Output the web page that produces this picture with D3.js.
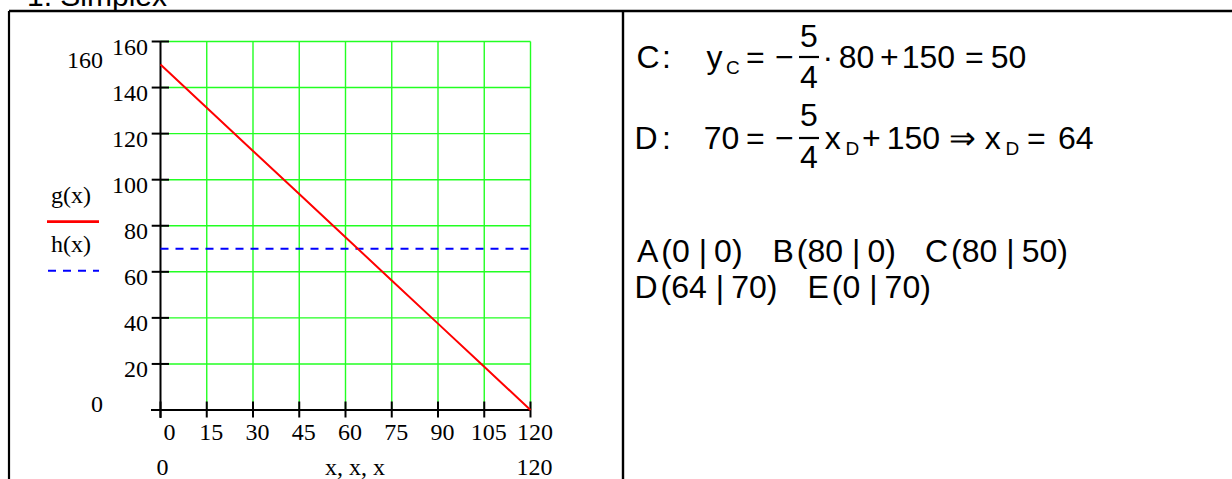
<!DOCTYPE html>
<html><head><meta charset="utf-8">
<script src="https://cdn.jsdelivr.net/npm/d3@7"></script>
<style>body{margin:0;background:#fff}svg{display:block}</style>
</head><body>
<svg id="c" width="1232" height="479"></svg>
<script>
// ---- data ----
const xTicks = [0, 15, 30, 45, 60, 75, 90, 105, 120];
const yTicks = [0, 20, 40, 60, 80, 100, 120, 140, 160];
const xValues = [0, 15, 30, 45, 60, 75, 90, 105, 120];
const gValues = [150, 131.25, 112.5, 93.75, 75, 56.25, 37.5, 18.75, 0];
const hValues = [70, 70, 70, 70, 70, 70, 70, 70, 70];
const xLimits = ["0", "120"];
const yLimits = ["160", "0"];
const xAxisTitle = "x, x, x";
const legendLabels = ["g(x)", "h(x)"];
const title = "1. Simplex";

const serif = "'Liberation Serif','Times New Roman',serif";
const sans = "'Liberation Sans',Arial,sans-serif";
const svg = d3.select("#c");
const SF = 24;   // serif label size
const MF = 32;   // math font size

// ---- frames ----
svg.append("text").attr("x", 27).attr("y", 6).attr("font-family", sans).attr("font-size", 30).text(title);
svg.append("line").attr("x1", 9).attr("x2", 1232).attr("y1", 11).attr("y2", 11).attr("stroke", "#000").attr("stroke-width", 2.6);
svg.append("line").attr("x1", 9).attr("x2", 9).attr("y1", 11).attr("y2", 479).attr("stroke", "#000").attr("stroke-width", 2.2);
svg.append("line").attr("x1", 623).attr("x2", 623).attr("y1", 11).attr("y2", 479).attr("stroke", "#000").attr("stroke-width", 2.4);

// ---- scales ----
const x = d3.scaleLinear().domain([0, 120]).range([160.5, 530.5]);
const y = d3.scaleLinear().domain([0, 160]).range([410, 41.5]);

// ---- grid ----
svg.append("g").attr("transform", `translate(0,${y(0)})`)
  .call(d3.axisBottom(x).tickValues(xTicks.slice(1)).tickSize(-(y(0) - y(160))).tickFormat("").offset(0))
  .call(s => s.select(".domain").remove())
  .selectAll("line").attr("stroke", "#22ff22").attr("stroke-width", 1.4);
svg.append("g").attr("transform", `translate(${x(0)},0)`)
  .call(d3.axisLeft(y).tickValues(yTicks.slice(1)).tickSize(-(x(120) - x(0))).tickFormat("").offset(0))
  .call(s => s.select(".domain").remove())
  .selectAll("line").attr("stroke", "#22ff22").attr("stroke-width", 1.4);

// ---- axis lines ----
svg.append("line").attr("x1", x(0) - 9.5).attr("x2", x(120)).attr("y1", y(0)).attr("y2", y(0)).attr("stroke", "#000").attr("stroke-width", 2);
svg.append("line").attr("x1", x(0)).attr("x2", x(0)).attr("y1", y(160)).attr("y2", y(0) + 8).attr("stroke", "#000").attr("stroke-width", 2);

// ---- x axis ticks & labels ----
const gx = svg.append("g").attr("transform", `translate(0,${y(0)})`)
  .call(d3.axisBottom(x).tickValues(xTicks).tickSize(8).offset(0).tickFormat(d3.format("d")));
gx.select(".domain").remove();
gx.attr("font-family", serif).attr("font-size", SF);
gx.selectAll(".tick line").attr("y1", -8.5).attr("y2", 7.5).attr("stroke", "#000").attr("stroke-width", 2);
gx.selectAll(".tick text").attr("y", 30).attr("dy", 0).attr("x", d => d === 0 ? 9 : 4.5).attr("fill", "#000");

// ---- y axis ticks & labels ----
const gy = svg.append("g").attr("transform", `translate(${x(0)},0)`)
  .call(d3.axisLeft(y).tickValues(yTicks.slice(1)).tickSize(8).offset(0).tickFormat(d3.format("d")));
gy.select(".domain").remove();
gy.attr("font-family", serif).attr("font-size", SF);
gy.selectAll(".tick line").attr("x1", 8.5).attr("x2", -8.8).attr("stroke", "#000").attr("stroke-width", 2);
gy.selectAll(".tick text").attr("x", -12.5).attr("dy", 0).attr("y", 13).attr("fill", "#000");

// ---- limit labels ----
const lim = (xx, yy, s, anchor) => svg.append("text").attr("x", xx).attr("y", yy).attr("font-family", serif)
  .attr("font-size", SF).attr("text-anchor", anchor).text(s);
lim(103, 68, yLimits[0], "end");
lim(103, 412, yLimits[1], "end");
lim(x(0) - 4, 475, xLimits[0], "start");
lim(x(120) + 22, 475, xLimits[1], "end");
lim(355, 475, xAxisTitle, "middle");

// ---- series ----
const pts = (vals) => xValues.map((v, i) => [v, vals[i]]);
const line = d3.line().x(d => x(d[0])).y(d => y(d[1]));
svg.append("path").attr("d", line(pts(hValues))).attr("fill", "none").attr("stroke", "#0000ff")
  .attr("stroke-width", 2).attr("stroke-dasharray", "8,7");
svg.append("path").attr("d", line(pts(gValues))).attr("fill", "none").attr("stroke", "#ff0000").attr("stroke-width", 2);

// ---- legend ----
lim(71, 203, legendLabels[0], "middle");
svg.append("line").attr("x1", 47).attr("x2", 99).attr("y1", 221.7).attr("y2", 221.7).attr("stroke", "#ff0000").attr("stroke-width", 2.7);
lim(71, 252, legendLabels[1], "middle");
svg.append("line").attr("x1", 48).attr("x2", 99).attr("y1", 270.7).attr("y2", 270.7).attr("stroke", "#0000ff")
  .attr("stroke-width", 2).attr("stroke-dasharray", "8,7");

// ---- right panel math ----
function t(xx, yy, s, size = MF, anchor = "start") {
  return svg.append("text").attr("x", xx).attr("y", yy).attr("font-family", sans)
    .attr("font-size", size).attr("text-anchor", anchor).text(s);
}
function frac(cx, base, n, d, numOff, denOff) {
  svg.append("line").attr("x1", cx - 10).attr("x2", cx + 10).attr("y1", base - 11).attr("y2", base - 11)
    .attr("stroke", "#000").attr("stroke-width", 2.2);
  t(cx, base + numOff, n, MF, "middle");
  t(cx, base + denOff, d, MF, "middle");
}
// line 1
let b = 68;
t(636.5, b, "C");
t(662, b, ":");
t(706.5, b, "y");
t(726, b + 6, "C", 19);
t(746, b, "=");
t(775, b, "−");
frac(809, b, "5", "4", -21, 20);
t(822.5, b, "·");
t(838.7, b, "80");
t(880, b, "+");
t(901.7, b, "150");
t(965, b, "=");
t(990.7, b, "50");
// line 2
b = 149;
t(634.5, b, "D");
t(662, b, ":");
t(703.7, b, "70");
t(746, b, "=");
t(775, b, "−");
frac(809, b, "5", "4", -23, 19);
t(824.7, b, "x");
t(845.5, b + 6, "D", 19);
t(862, b, "+");
t(886.7, b, "150");
t(949, b, "⇒");
t(984.7, b, "x");
t(1005.5, b + 6, "D", 19);
t(1027, b, "=");
t(1058, b, "64");

// points rows
function pt(xx, yy, name, a, c) {
  const el = svg.append("text").attr("x", xx).attr("y", yy).attr("font-family", sans).attr("font-size", MF);
  el.append("tspan").text(name);
  el.append("tspan").attr("dx", 3).text("(" + a);
  el.append("tspan").attr("dx", 9).text("|");
  el.append("tspan").attr("dx", 7).text(c + ")");
}
pt(637, 262, "A", "0", "0");
pt(772.5, 262, "B", "80", "0");
pt(925, 262, "C", "80", "50");
pt(634.5, 298, "D", "64", "70");
pt(807.5, 298, "E", "0", "70");
</script>
</body></html>
